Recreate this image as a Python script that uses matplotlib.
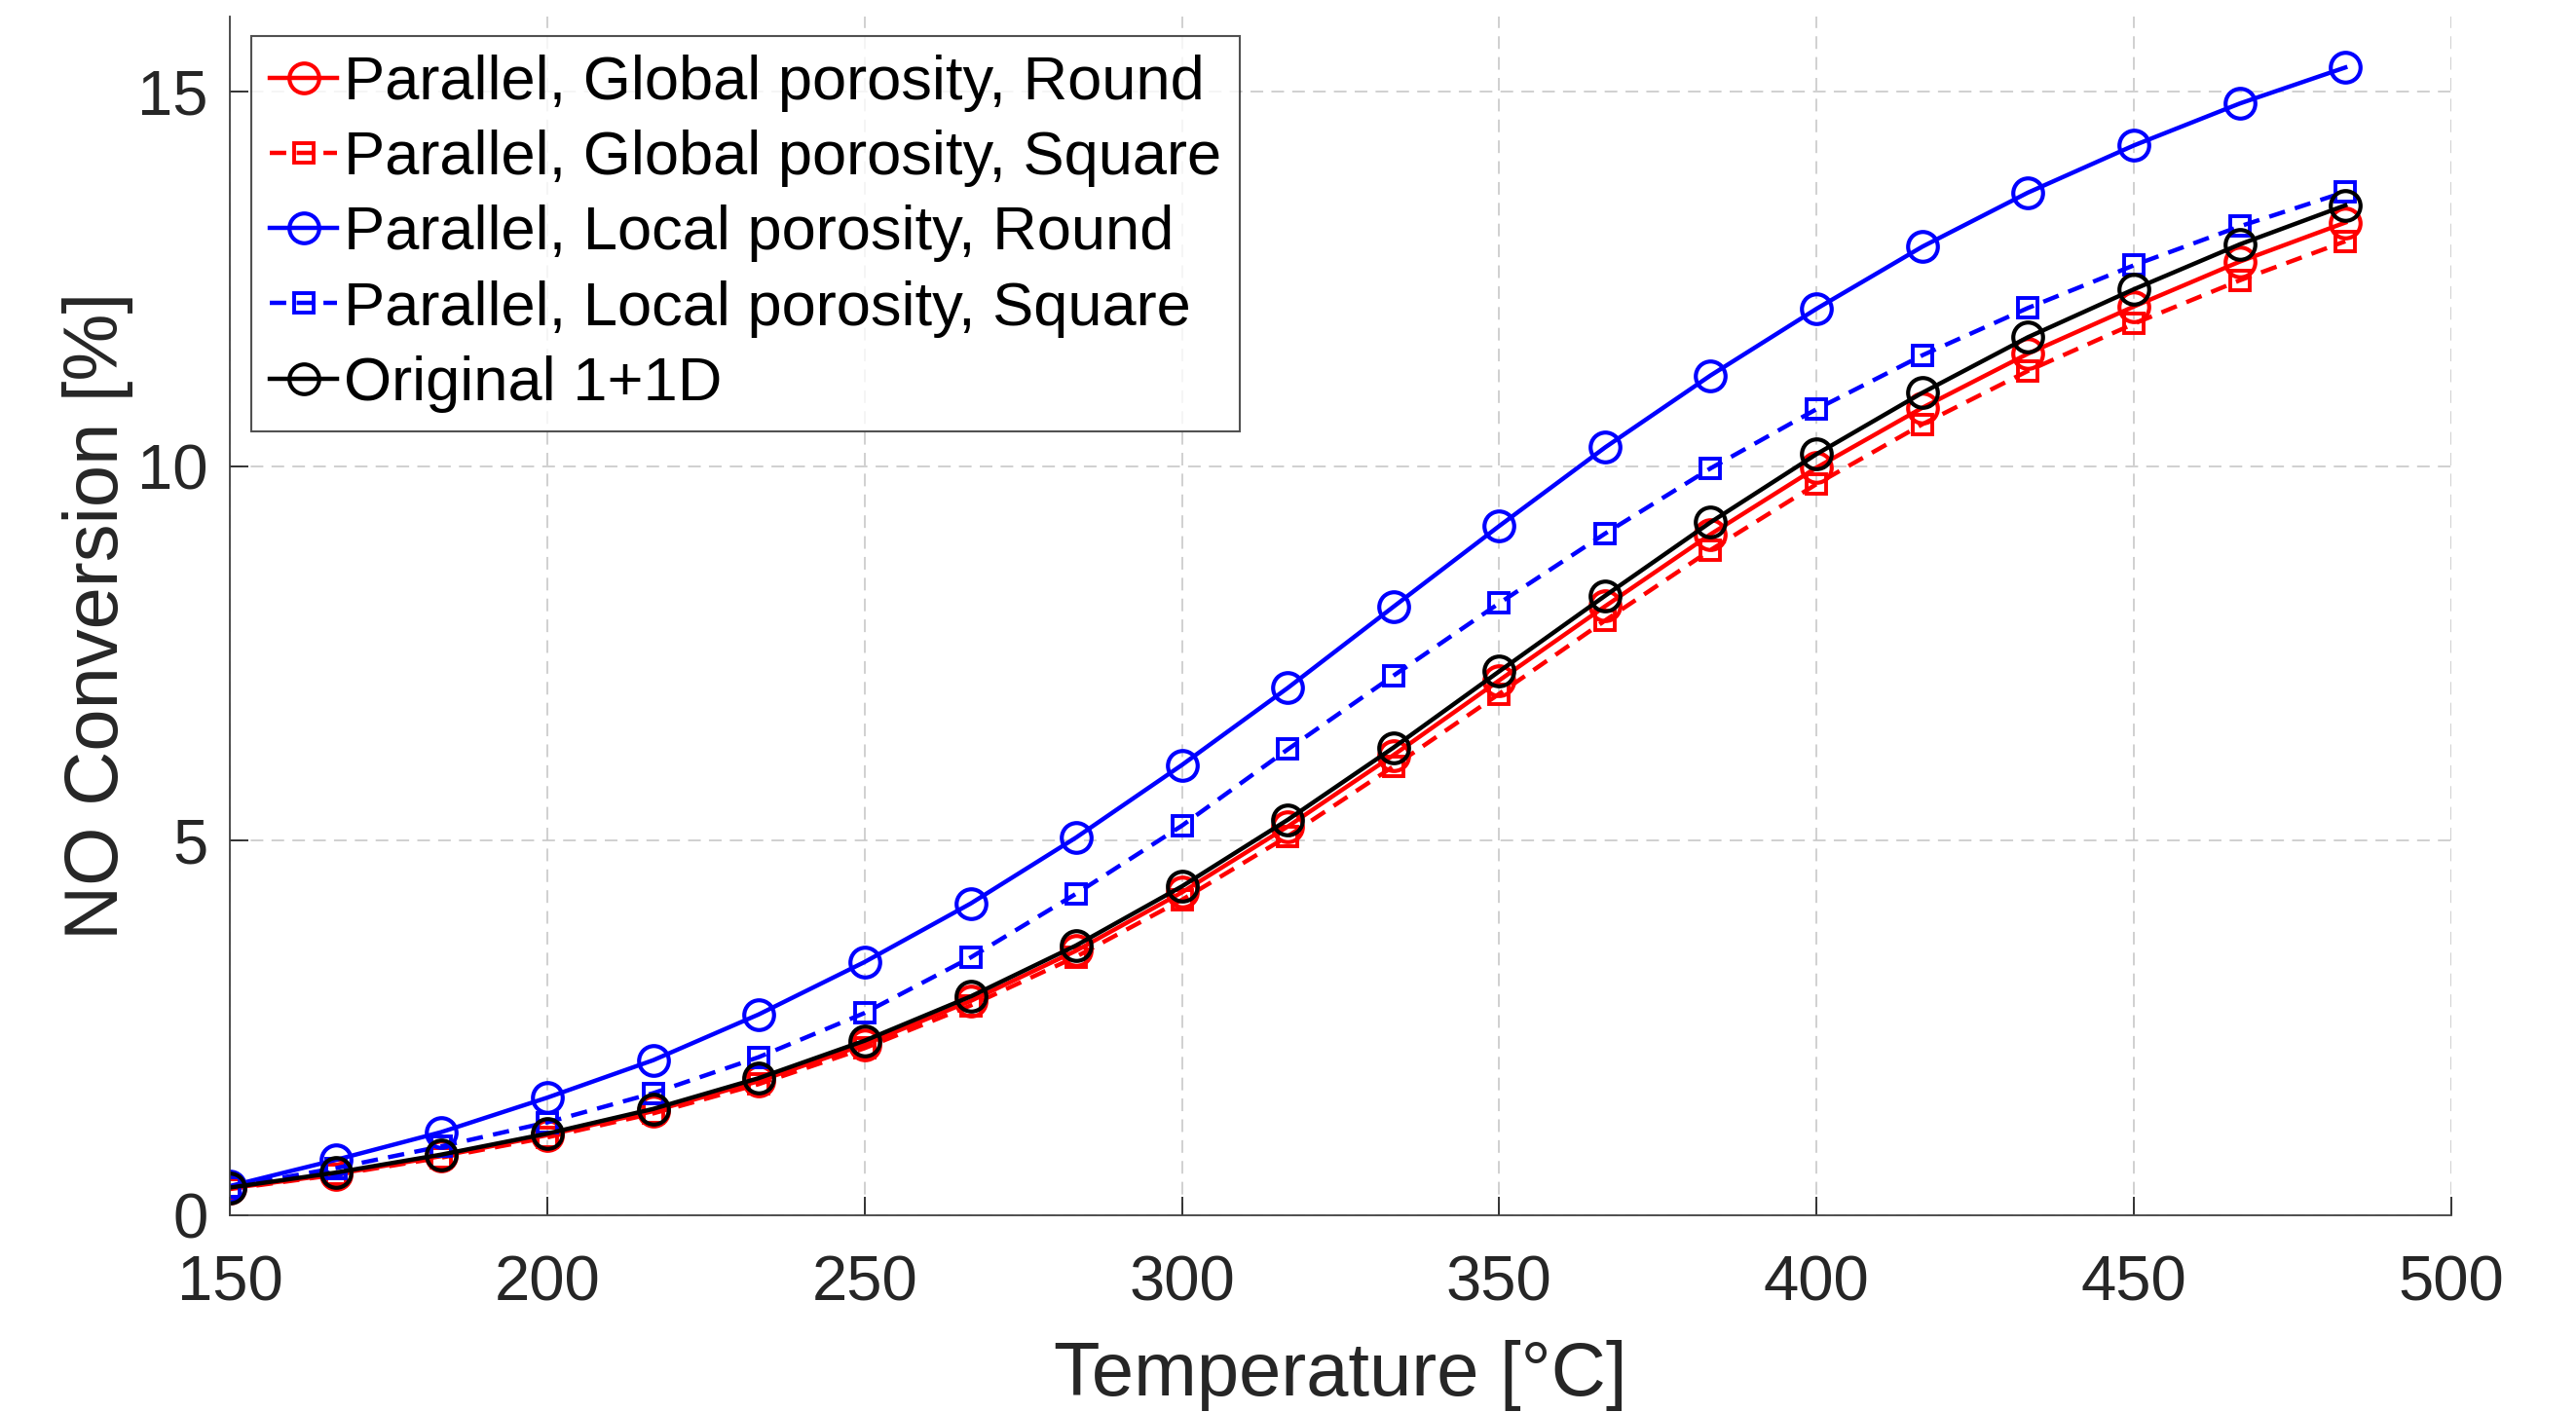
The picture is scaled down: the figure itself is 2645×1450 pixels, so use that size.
import matplotlib
matplotlib.use("Agg")
import matplotlib.pyplot as plt

plt.rcParams['font.family'] = ['Liberation Sans', 'DejaVu Sans']

# 温度点
temperature = [150, 166.7, 183.3, 200, 216.7, 233.3, 250, 266.7, 283.3, 300, 316.7,
               333.3, 350, 366.7, 383.3, 400, 416.7, 433.3, 450, 466.7, 483.3]

global_round = [0.36, 0.55, 0.79, 1.07, 1.39, 1.79, 2.28, 2.86, 3.53, 4.31, 5.19,
                6.14, 7.14, 8.13, 9.09, 9.98, 10.78, 11.50, 12.13, 12.73, 13.25]
global_square = [0.35, 0.54, 0.77, 1.04, 1.36, 1.75, 2.23, 2.80, 3.45, 4.21, 5.06,
                 5.99, 6.96, 7.94, 8.88, 9.76, 10.56, 11.27, 11.90, 12.48, 13.00]
local_round = [0.39, 0.74, 1.11, 1.57, 2.07, 2.68, 3.38, 4.16, 5.04, 6.01, 7.04,
               8.12, 9.20, 10.25, 11.21, 12.10, 12.93, 13.65, 14.28, 14.84, 15.32]
local_square = [0.38, 0.63, 0.92, 1.24, 1.63, 2.11, 2.70, 3.44, 4.29, 5.20, 6.22,
                7.20, 8.17, 9.10, 9.97, 10.76, 11.48, 12.11, 12.68, 13.20, 13.66]
original = [0.37, 0.57, 0.81, 1.09, 1.42, 1.83, 2.33, 2.92, 3.60, 4.39, 5.28,
            6.24, 7.26, 8.27, 9.25, 10.16, 10.98, 11.72, 12.36, 12.96, 13.48]

x_ticks = [150, 200, 250, 300, 350, 400, 450, 500]
y_ticks = [0, 5, 10, 15]

fig = plt.figure(figsize=(26.45, 14.5), dpi=100)
ax = fig.add_axes([0.0892, 0.1393, 0.8624, 0.849])

lw = 3.2
dash = (0, (3.8, 2.4))
ax.plot(temperature, global_round, '-o', color='#ff0000', lw=lw, ms=22, mew=3,
        mfc='none', label='Parallel, Global porosity, Round')
ax.plot(temperature, global_square, 's', ls=dash, color='#ff0000', lw=lw, ms=15, mew=2.8,
        mfc='none', label='Parallel, Global porosity, Square')
ax.plot(temperature, local_round, '-o', color='#0000ff', lw=lw, ms=22, mew=3,
        mfc='none', label='Parallel, Local porosity, Round')
ax.plot(temperature, local_square, 's', ls=dash, color='#0000ff', lw=lw, ms=15, mew=2.8,
        mfc='none', label='Parallel, Local porosity, Square')
ax.plot(temperature, original, '-o', color='#000000', lw=lw, ms=22, mew=3,
        mfc='none', label='Original 1+1D')

ax.set_xlim(150, 500)
ax.set_ylim(0, 16)
ax.set_xticks(x_ticks)
ax.set_yticks(y_ticks)
ax.grid(True, ls=(0, (8.5, 5.5)), color='#c4c4c4', lw=1.1)
ax.set_axisbelow(True)
for s in ['top', 'right']:
    ax.spines[s].set_visible(False)
for s in ['left', 'bottom']:
    ax.spines[s].set_color('#404040')
    ax.spines[s].set_linewidth(1.3)
ax.tick_params(direction='in', length=14, width=1.3, colors='#262626', labelsize=47)
ax.tick_params(axis='x', pad=29)
ax.tick_params(axis='y', pad=16)

ax.set_xlabel('Temperature [°C]', fontsize=56, color='#262626', labelpad=20)
ax.set_ylabel('NO Conversion [%]', fontsize=56, color='#262626', labelpad=3)

leg = ax.legend(loc='upper left', bbox_to_anchor=(0.0096, 0.984), fontsize=45.5,
                frameon=True, fancybox=False, handlelength=1.1, handletextpad=0.1,
                borderpad=0.3, labelspacing=0.29, borderaxespad=0)
leg.get_frame().set_edgecolor('#262626')
leg.get_frame().set_linewidth(1.5)

fig.savefig('out.png', dpi=100, facecolor='white')
